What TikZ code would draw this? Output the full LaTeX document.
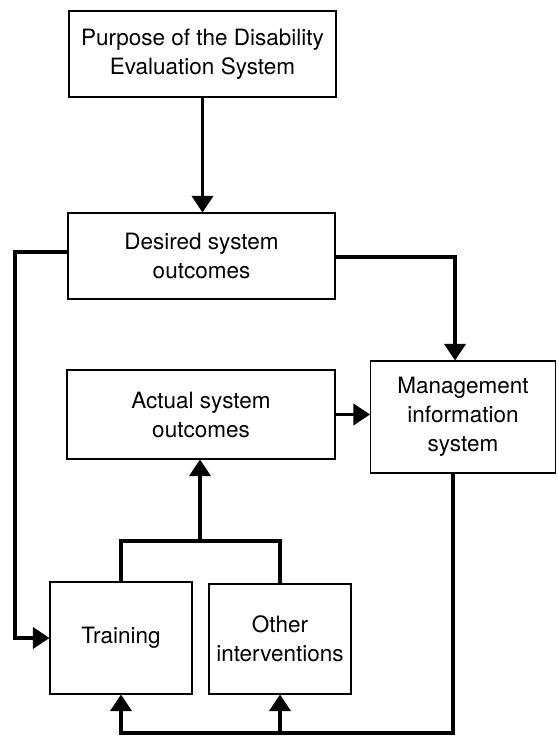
\documentclass[tikz,border=0pt]{standalone}
\usepackage{fontspec}
\setmainfont{TeX Gyre Heros}
\usetikzlibrary{arrows.meta}
\begin{document}
\begin{tikzpicture}[x=0.03cm, y=-0.03cm,
    box/.style={draw, line width=0.9pt, align=center, inner sep=0pt,
        font=\fontsize{19.2}{24.8}\selectfont},
    conn/.style={line width=2.8pt},
    arr/.style={line width=2.8pt, -{Triangle[width=0.64cm, length=0.5cm]}}]
    \useasboundingbox (0,0) rectangle (558,738);

    \node[box, minimum width=8.01cm, minimum height=2.58cm] (purpose) at (202.5,54) {Purpose of the Disability\\Evaluation System};
    \node[box, minimum width=8.01cm, minimum height=2.58cm] (desired) at (201.5,256) {Desired system\\outcomes};
    \node[box, minimum width=8.04cm, minimum height=2.67cm] (actual) at (201,414.5) {Actual system\\outcomes};
    \node[box, minimum width=5.55cm, minimum height=3.36cm] (mis) at (463,417) {Management\\information\\system};
    \node[box, minimum width=4.26cm, minimum height=3.36cm] (training) at (121,638) {Training};
    \node[box, minimum width=4.26cm, minimum height=3.30cm] (other) at (280,639) {Other\\interventions};

    \coordinate (lft) at (15,252);
    \coordinate (rgt) at (455,257);
    \coordinate (join) at (200,541);
    \coordinate (bot) at (453,733);

    \draw[arr] (purpose.south) -- (purpose.south |- desired.north);
    \draw[arr] (desired.west |- lft) -- (lft) |- (training.west);
    \draw[arr] (desired.east |- rgt) -- (rgt) -- (rgt |- mis.north);
    \draw[arr] (actual.east) -- (actual.east -| mis.west);

    % training and other interventions feed the actual outcomes
    \draw[conn] (training.north) |- (join) -| (other.north);
    \draw[arr] (join) -- (join |- actual.south);

    % feedback from the management information system
    \draw[arr] (mis.south -| bot) -- (bot) -| (training.south);
    \draw[arr] (bot -| other.south) -- (other.south);
\end{tikzpicture}
\end{document}
